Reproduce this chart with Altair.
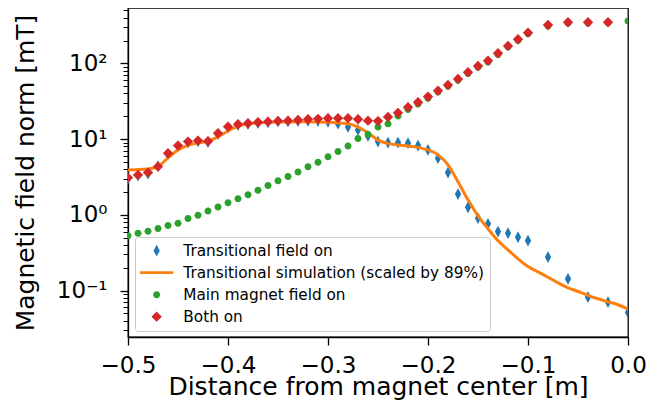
import altair as alt
import pandas as pd

FONT = "DejaVu Sans"

series_names = [
    "Transitional field on",
    "Transitional simulation (scaled by 89%)",
    "Main magnet field on",
    "Both on",
]
series_colors = ["#1f77b4", "#ff7f0e", "#2ca02c", "#d62728"]
series_shapes = [
    "M0,-0.84L0.45,0L0,0.84L-0.45,0Z",
    "M-2.36,-0.21L2.36,-0.21L2.36,0.21L-2.36,0.21Z",
    "M-0.5,0A0.5,0.5,0,1,1,0.5,0A0.5,0.5,0,1,1,-0.5,0Z",
    "M0,-0.74L0.74,0L0,0.74L-0.74,0Z",
]

# Transitional field on (blue thin diamonds)
blue_x = [-0.50, -0.49, -0.48, -0.47, -0.46, -0.45, -0.44, -0.43, -0.42, -0.41,
          -0.40, -0.39, -0.38, -0.37, -0.36, -0.35, -0.34, -0.33, -0.32, -0.31,
          -0.30, -0.29, -0.28, -0.27, -0.26, -0.25, -0.24, -0.23, -0.22, -0.21,
          -0.20, -0.19, -0.18, -0.17, -0.16, -0.15, -0.14, -0.13, -0.12, -0.11,
          -0.10, -0.08, -0.06, -0.04, -0.02, 0.00]
blue_y = [3.0, 3.3, 3.5, 4.4, 6.3, 8.0, 9.0, 9.3, 9.1, 11.6,
          14.2, 15.3, 15.8, 16.3, 16.6, 17.0, 17.1, 17.3, 17.4, 17.3,
          16.9, 16.0, 14.5, 13.2, 11.0, 9.27, 9.0, 9.0, 8.83, 8.21,
          7.20, 5.60, 3.61, 1.88, 1.26, 0.905, 0.761, 0.602, 0.573, 0.508,
          0.458, 0.277, 0.143, 0.082, 0.0705, 0.0514]

# Transitional simulation (orange line)
sim_x = [-0.50, -0.48, -0.47, -0.46, -0.45, -0.44, -0.43, -0.42, -0.41, -0.40,
         -0.39, -0.38, -0.36, -0.33, -0.30, -0.28, -0.27, -0.26, -0.25, -0.24,
         -0.23, -0.22, -0.21, -0.20, -0.19, -0.18, -0.17, -0.16, -0.15, -0.14,
         -0.13, -0.12, -0.11, -0.10, -0.09, -0.08, -0.07, -0.06, -0.05, -0.04,
         -0.03, -0.02, -0.01, 0.00]
sim_y = [3.92, 4.04, 4.34, 5.65, 7.20, 8.26, 8.91, 9.47, 10.7, 12.8,
         14.7, 15.9, 16.7, 17.0, 16.7, 15.9, 14.4, 12.1, 9.7, 8.78,
         8.38, 8.13, 7.77, 7.20, 6.19, 4.57, 2.73, 1.58, 0.97, 0.654,
         0.454, 0.345, 0.263, 0.208, 0.177, 0.150, 0.127, 0.109, 0.0973, 0.0867,
         0.078, 0.0711, 0.065, 0.057]

# Main magnet field on (green circles)
green_x = [-0.50, -0.49, -0.48, -0.47, -0.46, -0.45, -0.44, -0.43, -0.42, -0.41,
           -0.40, -0.39, -0.38, -0.37, -0.36, -0.35, -0.34, -0.33, -0.32, -0.31,
           -0.30, -0.29, -0.28, -0.27, -0.26, -0.25, -0.24, -0.23, -0.22, -0.21,
           -0.20, -0.19, -0.18, -0.17, -0.16, -0.15, -0.14, -0.13, -0.12, -0.11,
           -0.10, -0.08, -0.06, -0.04, -0.02, 0.00]
green_y = [0.528, 0.573, 0.609, 0.659, 0.722, 0.777, 0.894, 0.99, 1.12, 1.27,
           1.44, 1.63, 1.84, 2.12, 2.44, 2.81, 3.20, 3.69, 4.30, 4.96,
           5.87, 6.84, 8.13, 10.2, 11.5, 14.5, 16.0, 20.2, 24.5, 29.0,
           34.5, 42.0, 50.0, 60.0, 73.5, 89.0, 104, 131, 164, 201,
           246, 312, 340, 342, 343, 363]

# Both on (red diamonds)
red_x = [-0.50, -0.49, -0.48, -0.47, -0.46, -0.45, -0.44, -0.43, -0.42, -0.41,
         -0.40, -0.39, -0.38, -0.37, -0.36, -0.35, -0.34, -0.33, -0.32, -0.31,
         -0.30, -0.29, -0.28, -0.27, -0.26, -0.25, -0.24, -0.23, -0.22, -0.21,
         -0.20, -0.19, -0.18, -0.17, -0.16, -0.15, -0.14, -0.13, -0.12, -0.11,
         -0.10, -0.08, -0.06, -0.04, -0.02]
red_y = [3.10, 3.37, 3.61, 4.34, 6.51, 8.21, 9.27, 9.55, 9.38, 11.96,
         14.6, 15.7, 16.2, 16.7, 17.0, 17.4, 17.5, 17.9, 18.3, 18.5,
         18.9, 18.9, 18.9, 18.3, 17.5, 17.3, 19.6, 22.2, 26.4, 30.7,
         36.4, 43.6, 51.9, 62.3, 76.3, 92.4, 108.6, 136, 170, 208,
         254, 321, 349, 349, 349]

x_ticks = [-0.5, -0.4, -0.3, -0.2, -0.1, 0.0]
y_major_ticks = [0.1, 1, 10, 100]
y_minor_ticks = [0.03, 0.04, 0.05, 0.06, 0.07, 0.08, 0.09,
                 0.2, 0.3, 0.4, 0.5, 0.6, 0.7, 0.8, 0.9,
                 2, 3, 4, 5, 6, 7, 8, 9,
                 20, 30, 40, 50, 60, 70, 80, 90,
                 200, 300, 400, 500]
y_domain = [0.0244, 538]

df_blue = pd.DataFrame({"x": blue_x, "y": blue_y, "series": series_names[0]})
df_sim = pd.DataFrame({"x": sim_x, "y": sim_y})
df_green = pd.DataFrame({"x": green_x, "y": green_y, "series": series_names[2]})
df_red = pd.DataFrame({"x": red_x, "y": red_y, "series": series_names[3]})

x_enc = alt.X(
    "x:Q",
    scale=alt.Scale(domain=[-0.5, 0.0], nice=False, zero=False),
    axis=alt.Axis(
        title="Distance from magnet center [m]", values=x_ticks, format=".1f",
        labelFont=FONT, labelFontSize=23, labelColor="black",
        labelBaseline="alphabetic", labelPadding=27,
        labelFlush=False, labelOverlap=False,
        titleFont=FONT, titleFontSize=25, titleFontWeight="normal", titleColor="black",
        titleBaseline="alphabetic", titleY=57.5,
        tickSize=8, tickWidth=1.3, tickColor="black",
        domainColor="black", domainWidth=1.3, grid=False,
    ),
)
y_scale = alt.Scale(type="log", domain=y_domain, nice=False)

label_expr = ("datum.value >= 50 ? '10²' : datum.value >= 5 ? '10¹' : "
              "datum.value >= 0.5 ? '10⁰' : '10⁻¹'")

y_major = alt.Y(
    "y:Q", scale=y_scale,
    axis=alt.Axis(
        title="Magnetic field norm [mT]", orient="left", values=y_major_ticks,
        labelExpr=label_expr, labelFont=FONT, labelFontSize=23, labelColor="black",
        labelPadding=13, labelFlush=False, labelOverlap=False,
        titleFont=FONT, titleFontSize=25, titleFontWeight="normal", titleColor="black",
        titleX=-103, titleBaseline="middle",
        tickSize=8, tickWidth=1.3, tickColor="black",
        domainColor="black", domainWidth=1.3, grid=False,
    ),
)
y_minor = alt.Y(
    "y:Q", scale=y_scale,
    axis=alt.Axis(
        title=None, orient="left", values=y_minor_ticks, labels=False,
        tickSize=5, tickWidth=1, tickColor="black", domain=False, grid=False,
    ),
)
y_none = alt.Y("y:Q", scale=y_scale, axis=None)

legend = alt.Legend(
    title=None, orient="none", legendX=7, legendY=229, padding=6,
    strokeColor="#cccccc", fillColor="rgba(255,255,255,0.8)", cornerRadius=3,
    labelFont=FONT, labelFontSize=15.3, labelColor="black", labelLimit=500,
    symbolSize=196, symbolStrokeWidth=0, symbolOffset=8, labelOffset=19,
    rowPadding=6, symbolOpacity=1,
)
color_enc = alt.Color("series:N", scale=alt.Scale(domain=series_names, range=series_colors),
                      legend=legend)
shape_enc = alt.Shape("series:N", scale=alt.Scale(domain=series_names, range=series_shapes),
                      legend=legend)

def points(df, yenc):
    return alt.Chart(df).mark_point(filled=True, size=196, opacity=1, strokeWidth=0, clip=True).encode(
        x=x_enc, y=yenc, color=color_enc, shape=shape_enc)

blue_layer = points(df_blue, y_major)
sim_layer = alt.Chart(df_sim).mark_line(color="#ff7f0e", strokeWidth=3, interpolate="monotone", clip=True).encode(
    x=x_enc, y=y_none)
green_layer = points(df_green, y_minor)
red_layer = points(df_red, y_none)

chart = alt.layer(blue_layer, sim_layer, green_layer, red_layer).resolve_scale(
    y="shared", x="shared", color="shared", shape="shared"
).resolve_axis(y="independent").properties(
    width=500, height=329,
    autosize=alt.AutoSizeParams(type="none"),
    padding={"left": 120, "top": 0, "right": 34, "bottom": 63},
    background="white",
).configure_view(stroke="black", strokeWidth=1.3)

chart.save("out.html", embed_options={"renderer": "svg", "actions": False})
